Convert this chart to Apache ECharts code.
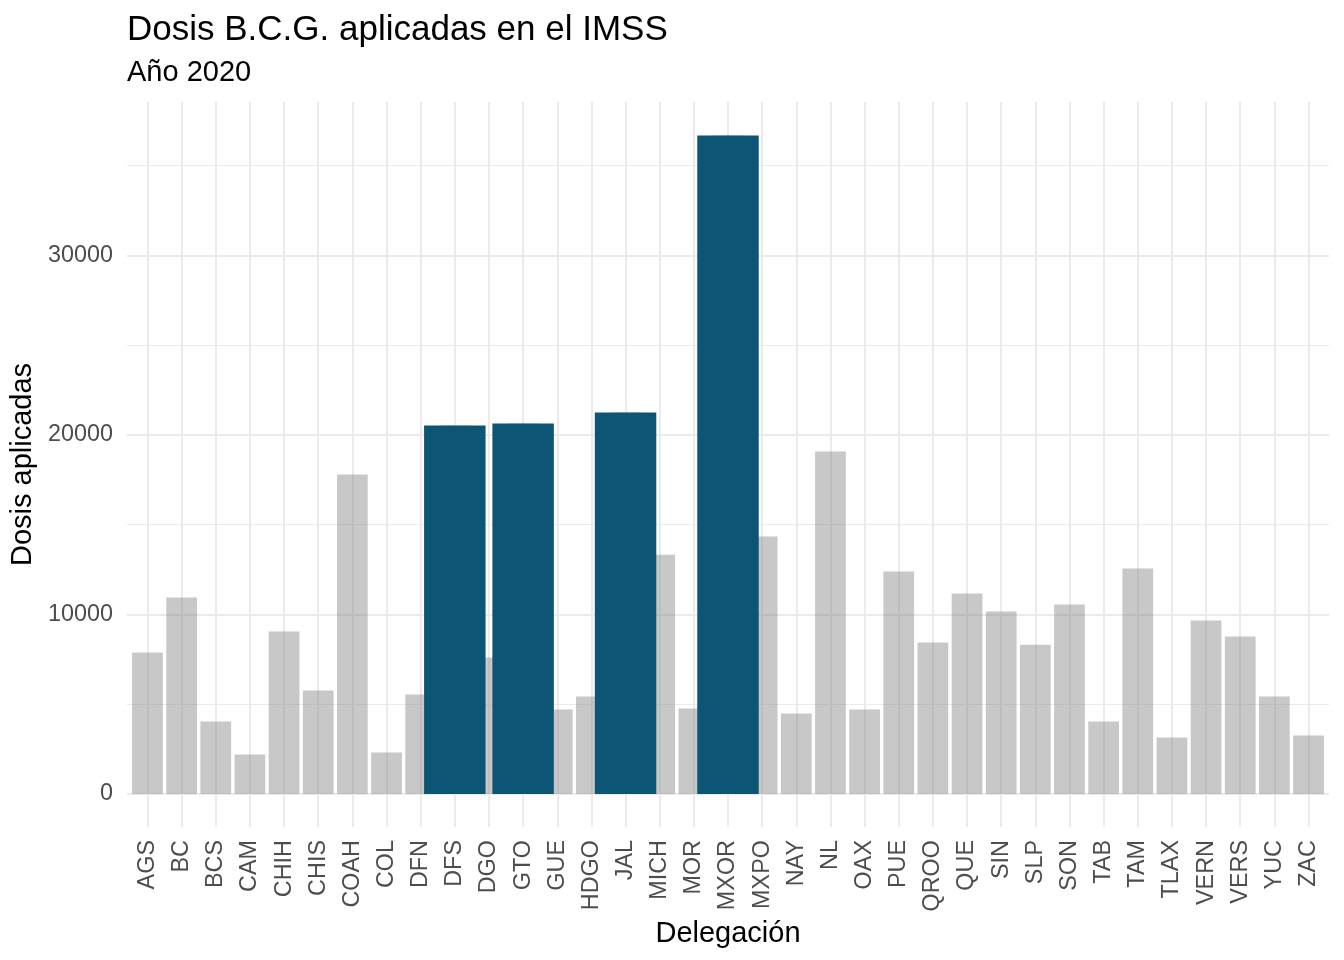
<!DOCTYPE html>
<html>
<head>
<meta charset="utf-8">
<title>Dosis B.C.G. aplicadas en el IMSS</title>
<script src="https://cdn.jsdelivr.net/npm/echarts@6/dist/echarts.min.js"></script>
<style>
	html, body { margin: 0; padding: 0; background: #ffffff; }
	#chart { width: 1344px; height: 960px; }
</style>
</head>
<body>
<div id="chart"></div>
<script>
/*----- datos -----*/
var delegaciones = ['AGS','BC','BCS','CAM','CHIH','CHIS','COAH','COL','DFN','DFS','DGO','GTO','GUE','HDGO','JAL','MICH','MOR','MXOR','MXPO','NAY','NL','OAX','PUE','QROO','QUE','SIN','SLP','SON','TAB','TAM','TLAX','VERN','VERS','YUC','ZAC'];
var dosis = [7880, 10940, 4040, 2200, 9050, 5760, 17790, 2310, 5540, 20520, 7600, 20630, 4710, 5430, 21240, 13330, 4760, 36670, 14340, 4480, 19070, 4710, 12390, 8440, 11160, 10160, 8320, 10550, 4040, 12560, 3150, 9660, 8770, 5430, 3260];
var destacadas = ['DFS', 'GTO', 'JAL', 'MXOR'];
var yTicks = [0, 10000, 20000, 30000];

/*----- grafica -----*/
function drawDosisChart(id){
	var dosisDestacadas = [];
	for(var i = 0; i < delegaciones.length; i++){
		dosisDestacadas.push(destacadas.indexOf(delegaciones[i]) >= 0 ? dosis[i] : '-');
	}
	var yMin = -1835;
	var yMax = 38535;
	var font = 'Liberation Sans, Arial, sans-serif';
	var clear = 'rgba(0,0,0,0)';
	var gridColor = '#ebebeb';
	var option = {
		animation: false,
		backgroundColor: '#ffffff',
		textStyle: { fontFamily: font },
		title: [
			{
				text: 'Dosis B.C.G. aplicadas en el IMSS',
				left: 127,
				top: 13,
				padding: 0,
				textStyle: { fontSize: 35, fontWeight: 'normal', color: '#000000', fontFamily: font }
			},
			{
				text: 'Año 2020',
				left: 127,
				top: 58,
				padding: 0,
				textStyle: { fontSize: 29, fontWeight: 'normal', color: '#000000', fontFamily: font }
			}
		],
		grid: [
			{ left: 127, right: 15, top: 102, bottom: 133, containLabel: false },
			{ left: 130.4, right: 18.4, top: 102, bottom: 133, containLabel: false }
		],
		xAxis: [
			{
				// solo lineas verticales, en el centro de cada categoria
				type: 'value',
				gridIndex: 0,
				min: -0.6,
				max: delegaciones.length - 0.4,
				splitNumber: 35,
				minInterval: 1,
				maxInterval: 1,
				axisLine: { show: false },
				axisTick: { show: false },
				axisLabel: { show: false },
				splitLine: {
					show: true,
					showMinLine: false,
					showMaxLine: false,
					lineStyle: { color: gridColor, width: 2 }
				}
			},
			{
				type: 'category',
				gridIndex: 1,
				data: delegaciones,
				name: 'Delegación',
				nameLocation: 'middle',
				nameGap: 86,
				nameTextStyle: { fontSize: 29, color: '#000000', fontFamily: font },
				axisLine: { show: false },
				axisTick: { show: false },
				splitLine: { show: false },
				axisLabel: {
					rotate: 90,
					interval: 0,
					margin: 13,
					fontSize: 23.4,
					color: '#4d4d4d',
					fontFamily: font,
					padding: [0, 0, 0, 0]
				}
			},
			{
				type: 'category',
				gridIndex: 1,
				data: delegaciones,
				show: false
			}
		],
		yAxis: [
			{
				// lineas principales y etiquetas
				type: 'value',
				gridIndex: 0,
				min: yMin,
				max: yMax,
				splitNumber: 8,
				minInterval: 5000,
				maxInterval: 5000,
				name: 'Dosis aplicadas',
				nameLocation: 'middle',
				nameGap: 85,
				nameTextStyle: { fontSize: 29, color: '#000000', fontFamily: font },
				axisLine: { show: false },
				axisTick: { show: false },
				axisLabel: {
					margin: 14,
					fontSize: 23.4,
					color: '#4d4d4d',
					fontFamily: font,
					padding: [4, 0, 0, 0],
					showMinLabel: false,
					showMaxLabel: false,
					formatter: function(v){
						return yTicks.indexOf(v) >= 0 ? String(v) : '';
					}
				},
				splitLine: {
					show: true,
					showMinLine: false,
					showMaxLine: false,
					lineStyle: { color: [gridColor, clear], width: 2 }
				}
			},
			{
				// lineas secundarias
				type: 'value',
				gridIndex: 0,
				position: 'left',
				min: yMin,
				max: yMax,
				splitNumber: 8,
				minInterval: 5000,
				maxInterval: 5000,
				axisLine: { show: false },
				axisTick: { show: false },
				axisLabel: { show: false },
				splitLine: {
					show: true,
					showMinLine: false,
					showMaxLine: false,
					lineStyle: { color: [clear, gridColor], width: 1.2 }
				}
			},
			{
				type: 'value',
				gridIndex: 1,
				min: yMin,
				max: yMax,
				show: false,
				splitLine: { show: false }
			}
		],
		series: [
			{
				name: 'Dosis',
				type: 'bar',
				xAxisIndex: 1,
				yAxisIndex: 2,
				barWidth: '90%',
				data: dosis,
				itemStyle: { color: 'rgba(128,128,128,0.43)' }
			},
			{
				name: 'Destacadas',
				type: 'bar',
				xAxisIndex: 2,
				yAxisIndex: 2,
				barWidth: '180%',
				data: dosisDestacadas,
				z: 3,
				itemStyle: { color: '#0c5575' }
			}
		]
	};
	echarts.init(document.getElementById(id)).setOption(option, true);
}
drawDosisChart('chart');
</script>
</body>
</html>
